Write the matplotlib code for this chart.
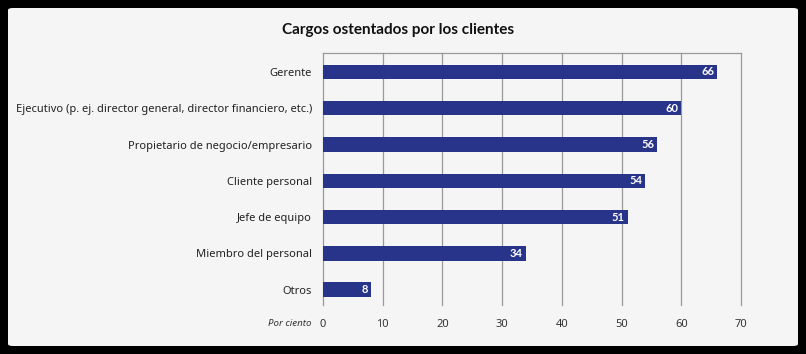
import matplotlib
matplotlib.use("Agg")
import matplotlib.pyplot as plt
from matplotlib.patches import FancyBboxPatch

categorias = ["Gerente",
              "Ejecutivo (p. ej. director general, director financiero, etc.)",
              "Propietario de negocio/empresario",
              "Cliente personal",
              "Jefe de equipo",
              "Miembro del personal",
              "Otros"]
valores = [66, 60, 56, 54, 51, 34, 8]
ticks_x = [0, 10, 20, 30, 40, 50, 60, 70]

plt.rcParams['font.family'] = ['Noto Sans', 'DejaVu Sans']
negrita = ['Lato', 'DejaVu Sans']

fig = plt.figure(figsize=(8.06, 3.54), dpi=100)
fig.patch.set_facecolor('black')

# panel gris claro con esquinas redondeadas
panel = FancyBboxPatch((8 / 806, 8 / 354), 790 / 806, 338 / 354,
                       boxstyle="round,pad=0,rounding_size=0.006",
                       transform=fig.transFigure, facecolor='#f5f5f5',
                       edgecolor='none', zorder=-5)
fig.patches.append(panel)

ax = fig.add_axes([323 / 806, 1 - 305 / 354, 418 / 806, 252 / 354])
ax.set_facecolor('none')
ax.set_zorder(2)

y = list(range(len(categorias)))
ax.barh(y, valores, height=0.4, color='#28348a', zorder=3)

for yi, v in zip(y, valores):
    ax.text(v - 0.5, yi, str(v), ha='right', va='center', color='white',
            fontsize=8, fontweight='bold', family=negrita, zorder=4)

ax.set_xlim(0, 70)
ax.set_ylim(6.42, -0.52)
ax.set_xticks(ticks_x)
ax.set_yticks(y)
ax.set_yticklabels(categorias, fontsize=8, color='#222222')
ax.tick_params(axis='x', labelsize=8, colors='#333333', length=0, pad=10)
ax.tick_params(axis='y', length=0, pad=8)

ax.grid(axis='x', color='#999999', linewidth=0.9, zorder=1)
for line in ax.get_xgridlines():
    line.set_clip_on(False)
for s in ['left', 'right', 'bottom']:
    ax.spines[s].set_visible(False)
ax.spines['top'].set_color('#999999')
ax.spines['top'].set_linewidth(0.9)

ax.text(-2, -0.072, "Por ciento", transform=ax.get_xaxis_transform(),
        fontsize=7, style='italic', color='#333333', ha='right', va='center')

fig.text(398 / 806, 1 - 30 / 354, "Cargos ostentados por los clientes",
         fontsize=11, fontweight='bold', family=negrita, color='#111111',
         ha='center', va='center')

fig.savefig('out.png', dpi=100, facecolor=fig.get_facecolor())
